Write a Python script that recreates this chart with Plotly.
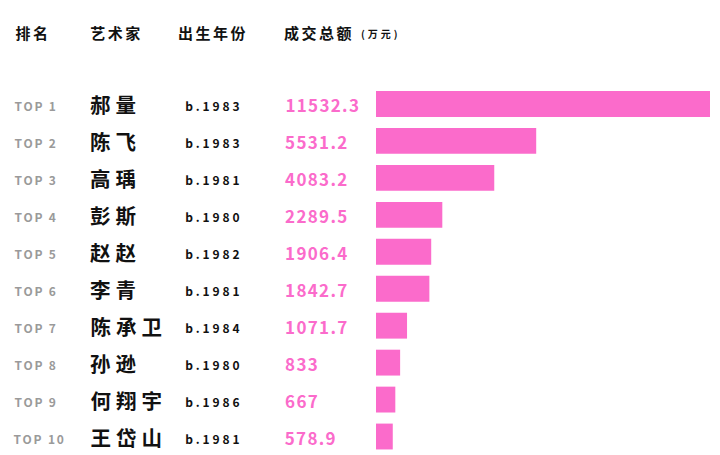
import json
import plotly.graph_objects as go

ranks = ["TOP 1", "TOP 2", "TOP 3", "TOP 4", "TOP 5", "TOP 6", "TOP 7", "TOP 8", "TOP 9", "TOP 10"]
artists = ["郝量", "陈飞", "高瑀", "彭斯", "赵赵", "李青", "陈承卫", "孙逊", "何翔宇", "王岱山"]
births = ["b.1983", "b.1983", "b.1981", "b.1980", "b.1982", "b.1981", "b.1984", "b.1980", "b.1986", "b.1981"]
values = [11532.3, 5531.2, 4083.2, 2289.5, 1906.4, 1842.7, 1071.7, 833, 667, 578.9]
value_labels = ["11532.3", "5531.2", "4083.2", "2289.5", "1906.4", "1842.7", "1071.7", "833", "667", "578.9"]
headers = ["排名", "艺术家", "出生年份", "成交总额"]
unit = "(万元)"

FONT = "Noto Sans CJK SC"
PINK = "#FB6BCB"
W, H = 720, 455

fig = go.Figure(go.Bar(
    x=values, y=ranks, orientation="h",
    marker=dict(color=PINK, line=dict(width=0)),
    hoverinfo="skip",
))

ann = []
spacing = []


def add(text, x, y, yref, size, color, sp, yshift=0, yanchor="middle"):
    # annotation text is centred in its box, so letter-spacing grows it both ways;
    # move the box right by half the added width to keep the left edge in place
    xc = x + len(text) * sp / 2
    ann.append(dict(x=xc / W, y=y, xref="paper", yref=yref, text=text, showarrow=False,
                    yshift=yshift, xanchor="left", yanchor=yanchor,
                    font=dict(family=FONT, size=size, color=color, weight="bold")))
    spacing.append(sp)


for r, a, b, v in zip(ranks, artists, births, value_labels):
    add(r, 12, r, "y", 12, "#9a9a9a", 1.8, yshift=-2)
    add(a, 88, r, "y", 20.5, "#111111", 5, yshift=0)
    add(b, 183, r, "y", 12, "#111111", 2.9, yshift=-2)
    add(v, 283, r, "y", 17, PINK, 1.3, yshift=-1)

hx = [13, 88, 176, 282]
for h, x in zip(headers, hx):
    add(h, x, 1 - 33 / H, "paper", 15, "#111111", 2.5)
add(unit, 359, 1 - 34 / H, "paper", 10, "#111111", 3)

fig.update_layout(
    width=W, height=H,
    margin=dict(l=0, r=0, t=0, b=0),
    paper_bgcolor="white", plot_bgcolor="white",
    showlegend=False,
    bargap=0.3,
    annotations=ann,
    xaxis=dict(domain=[376 / W, 710 / W], range=[0, 11532.3], visible=False, fixedrange=True),
    yaxis=dict(domain=[0, 1 - 85.5 / H], autorange="reversed", visible=False, fixedrange=True),
)

post = """
document.body.style.margin = '0';
var sp = %s;
document.querySelectorAll('g.annotation').forEach(function (g) {
  var i = +g.getAttribute('data-index');
  var t = g.querySelector('text');
  if (t && sp[i] != null) { t.style.letterSpacing = sp[i] + 'px'; }
});
""" % json.dumps(spacing)

fig.write_html("out.html", config={"displayModeBar": False}, post_script=post)
